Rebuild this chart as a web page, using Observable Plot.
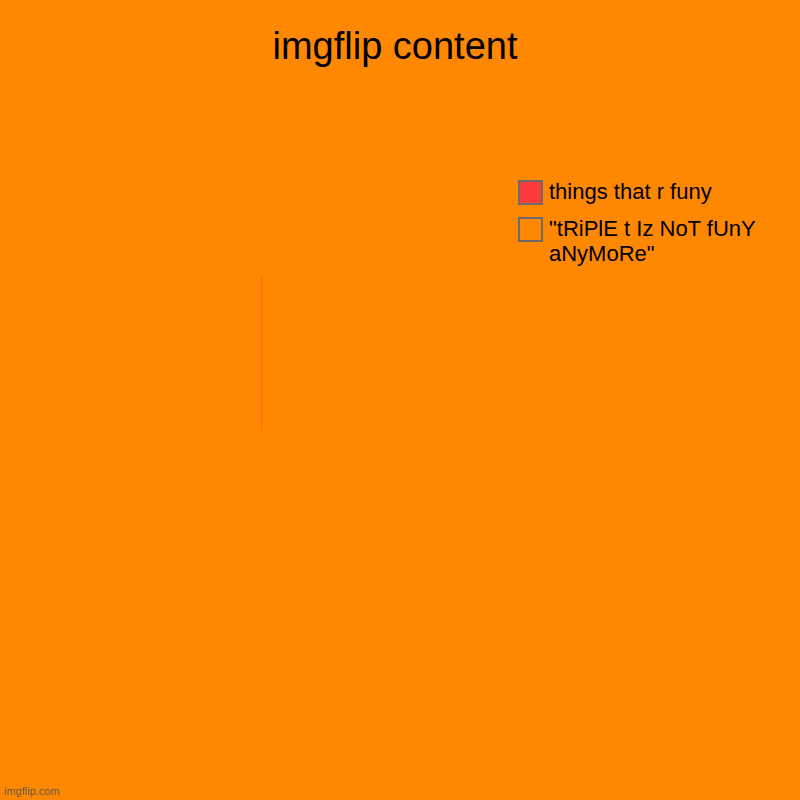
<!DOCTYPE html>
<html>
<head>
<meta charset="utf-8">
<script src="https://cdn.jsdelivr.net/npm/d3@7"></script>
<script src="https://cdn.jsdelivr.net/npm/@observablehq/plot@0.6"></script>
<style>
  html, body { margin: 0; padding: 0; background: #FF8800; }
  #wrap { position: relative; width: 800px; height: 800px; background: #FF8800; overflow: hidden;
          font-family: "Liberation Sans", Arial, sans-serif; color: #000; }
  #title { position: absolute; left: 0; width: 790px; top: 27px; text-align: center;
           font-size: 38px; line-height: 38px; }
  #pie { position: absolute; left: 107px; top: 276px; }
  .item { position: absolute; left: 518px; }
  .box { position: absolute; left: 0; width: 25px; height: 25px; box-sizing: border-box;
         border: 2px solid #6b6b6b; }
  .lab { position: absolute; left: 31px; width: 240px; font-size: 22px; line-height: 25px; white-space: normal; }
  #foot { position: absolute; left: 4px; top: 786px; font-size: 11px; line-height: 11px; color: #6a5a48; }
</style>
</head>
<body>
<div id="wrap">
  <div id="title"></div>
  <div id="pie"></div>
  <div id="legend"></div>
  <div id="foot">imgflip.com</div>
</div>
<script>
const chartTitle = "imgflip content";
const labels = ["things that r funy", "\"tRiPlE t Iz NoT fUnY aNyMoRe\""];
const values = [0, 100];
const colors = ["#FF3A3A", "#FF8800"];

document.getElementById("title").textContent = chartTitle;

// Pie slices via d3.pie (start at 12 o'clock, clockwise, no sorting)
const arcs = d3.pie().sort(null)(values);
const rows = [];
arcs.forEach((a, i) => {
  const n = Math.max(2, Math.ceil((a.endAngle - a.startAngle) / 0.01));
  rows.push({slice: labels[i], x: 0, y: 0});
  for (let k = 0; k <= n; k++) {
    const t = a.startAngle + (a.endAngle - a.startAngle) * k / n;
    rows.push({slice: labels[i], x: Math.sin(t), y: Math.cos(t)});
  }
  rows.push({slice: labels[i], x: 0, y: 0});
});

const size = 308;
const pie = Plot.plot({
  width: size, height: size,
  margin: 0,
  x: {domain: [-1, 1], axis: null},
  y: {domain: [-1, 1], axis: null},
  color: {domain: labels, range: colors},
  style: {background: "transparent", overflow: "visible"},
  marks: [
    Plot.line(rows.filter(d => d.slice === labels[1]), {x: "x", y: "y", z: "slice", fill: "slice", stroke: "none", curve: "linear"}),
    Plot.line(rows.filter(d => d.slice === labels[0]), {x: "x", y: "y", z: "slice", stroke: "slice", strokeWidth: 1, strokeOpacity: 0.25, fill: "none"})
  ]
});
document.getElementById("pie").appendChild(pie);

// Legend
const legendTops = [180, 217];
const legend = document.getElementById("legend");
labels.forEach((l, i) => {
  const item = document.createElement("div");
  item.className = "item";
  item.style.top = legendTops[i] + "px";
  const box = document.createElement("div");
  box.className = "box";
  box.style.background = colors[i];
  const lab = document.createElement("div");
  lab.className = "lab";
  lab.style.top = "-1px";
  lab.textContent = l;
  item.appendChild(box);
  item.appendChild(lab);
  legend.appendChild(item);
});
</script>
</body>
</html>
